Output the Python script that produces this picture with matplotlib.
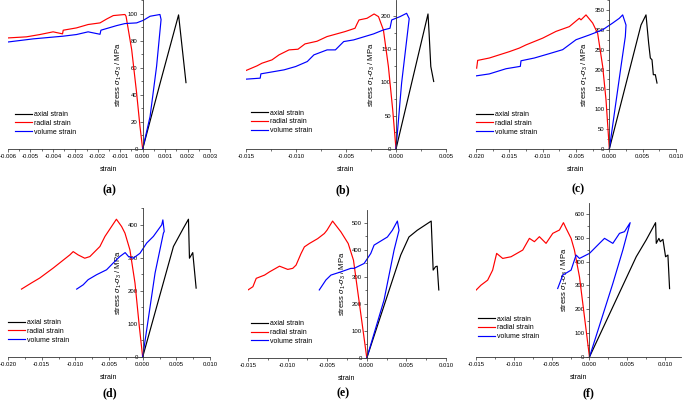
import numpy as np
import matplotlib
matplotlib.use("Agg")
import matplotlib.pyplot as plt
from matplotlib.ticker import MultipleLocator, AutoMinorLocator, FormatStrFormatter

plt.rcParams['font.family'] = ['Liberation Sans', 'DejaVu Sans']
plt.rcParams['mathtext.fontset'] = 'custom'
plt.rcParams['mathtext.rm'] = 'Liberation Sans'
plt.rcParams['mathtext.it'] = 'Liberation Sans:italic'

# ---- data (strain, stress in MPa) ----
# (a)
a_axial_x = [0, 0.0008, 0.0016, 0.00193]
a_axial_y = [0, 50, 99, 49]
a_radial_x = [0, -0.00012, -0.00027, -0.00049, -0.00074, -0.00079, -0.00131, -0.0016, -0.0019,
              -0.00243, -0.00295, -0.00354, -0.00357, -0.00399, -0.00458, -0.00518, -0.006]
a_radial_y = [0, 16.7, 41.4, 73.4, 98, 99.3, 98.5, 96, 93.1, 91.9, 89.4, 87.7, 85, 86.5, 84.5, 82.8, 82]
a_volume_x = [0, 0.00033, 0.00062, 0.00082, 0.00077, 0.00033, 0.00003, -0.00027, -0.00079, -0.00116,
              -0.00186, -0.0019, -0.00243, -0.00295, -0.00354, -0.00488, -0.006]
a_volume_y = [0, 24, 61, 95.6, 99.3, 98, 95, 93.1, 92.6, 91.1, 87.7, 84.7, 86.5, 84.5, 83.3, 81.3, 79]

# (b)
b_axial_x = [0, 0.0032, 0.00331, 0.00348, 0.00377]
b_axial_y = [0, 203, 174, 124, 101.5]
b_radial_x = [0, -0.00033, -0.00076, -0.00126, -0.00175, -0.00219, -0.0029, -0.0037, -0.0039, -0.0041,
              -0.0051, -0.0069, -0.0079, -0.0091, -0.0098, -0.0107, -0.0117, -0.0124, -0.0134, -0.0139, -0.015]
b_radial_y = [0, 59, 124, 179, 199, 203, 196.5, 194, 188, 181.5, 176.5, 169, 162, 158, 150, 149, 141.5,
              134, 129, 125, 118]
b_volume_x = [0, 0.00056, 0.00132, 0.00106, 0.0004, -0.00043, -0.0006, -0.00126, -0.00225, -0.00424,
              -0.00523, -0.00606, -0.00689, -0.00821, -0.00887, -0.01003, -0.01119, -0.01351, -0.01358, -0.015]
b_volume_y = [0, 99, 196, 204, 199, 194, 181.5, 179, 173, 164, 161.5, 149, 149, 141.5, 131.5, 124, 119,
              113, 106.5, 105]

# (c)
c_axial_x = [0, 0.00475, 0.0055, 0.0059, 0.00615, 0.0064, 0.0066, 0.0069, 0.00715]
c_axial_y = [0, 312, 337.5, 266, 229, 224.5, 187, 187, 166]
c_radial_x = [0, -0.0005, -0.001, -0.00175, -0.0025, -0.0035, -0.00425, -0.0045, -0.006, -0.008, -0.01,
              -0.0125, -0.0135, -0.015, -0.018, -0.01975, -0.0199]
c_radial_y = [0, 124, 208, 291, 317, 337.5, 325, 329, 308, 296, 279, 262, 254, 245, 229, 223, 203.5]
c_volume_x = [0, 0.00175, 0.0024, 0.0025, 0.002, 0.0015, 0.0005, -0.001, -0.003, -0.005, -0.007, -0.009,
              -0.01125, -0.01325, -0.01335, -0.0155, -0.018, -0.02]
c_volume_y = [0, 208, 283, 312, 337.5, 329, 317, 300, 287, 275, 250, 240, 229, 222, 208, 202, 189, 184]

# (d)
d_axial_x = [0, 0.00457, 0.00605, 0.0068, 0.00695, 0.00744, 0.00794]
d_axial_y = [0, 334.5, 390, 417, 299, 316, 208.5]
d_radial_x = [0, -0.0005, -0.00114, -0.00189, -0.00263, -0.00313, -0.0039, -0.00462, -0.0056, -0.00635,
              -0.00784, -0.0086, -0.00958, -0.01032, -0.01082, -0.01206, -0.0133, -0.01529, -0.01653, -0.018]
d_radial_y = [0, 92.7, 223.7, 324, 375, 395, 417, 395, 365, 334.5, 304, 299, 309, 319, 309, 289, 269,
              239, 224, 205.5]
d_volume_x = [0, 0.00184, 0.00308, 0.0032, 0.003, 0.00283, 0.00159, 0.0006, -0.0004, -0.0014, -0.0021,
              -0.0026, -0.0034, -0.0044, -0.00536, -0.00685, -0.0081, -0.00883, -0.0098]
d_volume_y = [0, 254, 375, 380, 415, 400, 365, 345, 314, 299, 304, 316, 304, 284, 264, 249, 234, 218.6, 205.5]

# (e)
e_axial_x = [0, 0.00428, 0.00532, 0.00637, 0.00813, 0.00838, 0.00868, 0.00889, 0.00909]
e_axial_y = [0, 381, 448, 473, 507, 325.5, 338, 340, 252]
e_radial_x = [0, -0.00054, -0.00117, -0.00168, -0.00235, -0.00327, -0.00432, -0.00503, -0.00536, -0.0062,
              -0.00725, -0.00788, -0.0083, -0.00893, -0.00935, -0.00998, -0.01102, -0.01228, -0.01291,
              -0.01396, -0.01438, -0.015]
e_radial_y = [0, 116.7, 252, 362, 424, 467, 507, 473, 461, 442, 424, 411.5, 387, 344, 332, 328, 340, 319,
              307, 295, 264, 252]
e_volume_x = [0, 0.00218, 0.00344, 0.00407, 0.00386, 0.00323, 0.0026, 0.00092, 0.0005, -0.00034, -0.00159,
              -0.00201, -0.00327, -0.00453, -0.00516, -0.006]
e_volume_y = [0, 215, 399, 473, 507, 473, 448, 418, 387, 350, 332, 332, 319, 307, 289, 252]

# (f)
f_axial_x = [0, 0.00618, 0.0075, 0.00874, 0.00883, 0.00918, 0.00936, 0.00971, 0.01006, 0.01037, 0.01059]
f_axial_y = [0, 420.5, 491, 563.5, 476.7, 497.7, 483.7, 493.5, 420.5, 427.6, 287]
f_radial_x = [0, -0.00066, -0.00132, -0.00199, -0.00243, -0.00309, -0.00344, -0.00397, -0.00485, -0.00574,
              -0.00662, -0.00728, -0.00794, -0.00882, -0.01037, -0.01147, -0.01227, -0.0128, -0.01346,
              -0.01434, -0.015]
f_radial_y = [0, 168, 336, 448.6, 497.7, 539.7, 563.5, 532.7, 518.7, 476.7, 504.7, 483.7, 497.7, 448.6,
              420.5, 413.5, 434.6, 364.5, 322.4, 301.4, 280.4]
f_volume_x = [0, 0.00309, 0.00441, 0.00538, 0.00463, 0.00397, 0.00309, 0.00199, 0.00132, 0, -0.00132,
              -0.00177, -0.00243, -0.00353, -0.0042]
f_volume_y = [0, 308.4, 448.6, 563.5, 525.7, 518.7, 476.7, 497.7, 476.7, 434.6, 413.5, 427.6, 364.5,
              343.5, 287.4]

labels = ['(a)', '(b)', '(c)', '(d)', '(e)', '(f)']
series_names = ['axial strain', 'radial strain', 'volume strain']
colors = ['black', '#ff0000', '#0000ff']

W, H = 685, 400
fig = plt.figure(figsize=(W / 100, H / 100), dpi=100)

# layout in pixels: left, right, y of zero line, y of top
panels = [
    (labels[0], (8, 210, 149, 0), (-0.006, 0.003), 0.001, (0, 110), 20,
     [(a_axial_x, a_axial_y), (a_radial_x, a_radial_y), (a_volume_x, a_volume_y)], (0.035, 0.09), (109, 190)),
    (labels[1], (246, 446, 149, 0), (-0.015, 0.005), 0.005, (0, 224), 50,
     [(b_axial_x, b_axial_y), (b_radial_x, b_radial_y), (b_volume_x, b_volume_y)], (0.025, 0.10), (343, 190)),
    (labels[2], (476, 676, 149, 0), (-0.020, 0.010), 0.005, (0, 375), 50,
     [(c_axial_x, c_axial_y), (c_radial_x, c_radial_y), (c_volume_x, c_volume_y)], (0.0, 0.09), (578, 189)),
    (labels[3], (8, 210, 357, 208), (-0.020, 0.010), 0.005, (0, 451), 100,
     [(d_axial_x, d_axial_y), (d_radial_x, d_radial_y), (d_volume_x, d_volume_y)], (0.0, 0.09), (110, 393)),
    (labels[4], (248, 446, 358, 210), (-0.015, 0.010), 0.005, (0, 548), 100,
     [(e_axial_x, e_axial_y), (e_radial_x, e_radial_y), (e_volume_x, e_volume_y)], (0.015, 0.09), (343, 393)),
    (labels[5], (476, 681, 357, 203), (-0.015, 0.0121), 0.005, (0, 646), 100,
     [(f_axial_x, f_axial_y), (f_radial_x, f_radial_y), (f_volume_x, f_volume_y)], (0.01, 0.11), (588, 393)),
]

for lab, (l, r, y0, yt), xlim, xstep, ylim, ystep, data, legpos, labpos in panels:
    ax = fig.add_axes([l / W, 1 - y0 / H, (r - l) / W, (y0 - yt) / H])
    for (xs, ys), c, name in zip(data, colors, series_names):
        ax.plot(xs, ys, color=c, lw=0.85, label=name)
    ax.set_xlim(*xlim)
    ax.set_ylim(*ylim)
    ax.spines['top'].set_visible(False)
    ax.spines['right'].set_visible(False)
    ax.spines['left'].set_position(('data', 0))
    for s in ('left', 'bottom'):
        ax.spines[s].set_linewidth(0.6)
        ax.spines[s].set_color('#333333')
    ax.xaxis.set_major_locator(MultipleLocator(xstep))
    ax.xaxis.set_minor_locator(AutoMinorLocator(2))
    ax.xaxis.set_major_formatter(FormatStrFormatter('%.3f'))
    ax.yaxis.set_major_locator(MultipleLocator(ystep))
    ax.yaxis.set_minor_locator(AutoMinorLocator(2))
    ax.tick_params(which='major', length=2, width=0.5, labelsize=4.3, pad=1.5, colors='#333333',
                   labelcolor='black')
    ax.tick_params(which='minor', length=1.2, width=0.5, colors='#333333')
    ax.set_xlabel('strain', fontsize=5, labelpad=5)
    ax.set_ylabel(r'stress $\sigma_1$-$\sigma_3$ / MPa', fontsize=5.5, labelpad=3)
    ax.patch.set_alpha(0)
    ax.legend(loc='lower left', bbox_to_anchor=legpos, frameon=False, fontsize=5,
              handlelength=2.4, handletextpad=0.3, labelspacing=0.25, borderpad=0, borderaxespad=0)
    fig.text(labpos[0] / W, 1 - labpos[1] / H, lab, ha='center', va='center',
             family=['Liberation Serif', 'DejaVu Serif'], fontweight='bold', fontsize=8.5)

fig.savefig('out.png', dpi=100)
